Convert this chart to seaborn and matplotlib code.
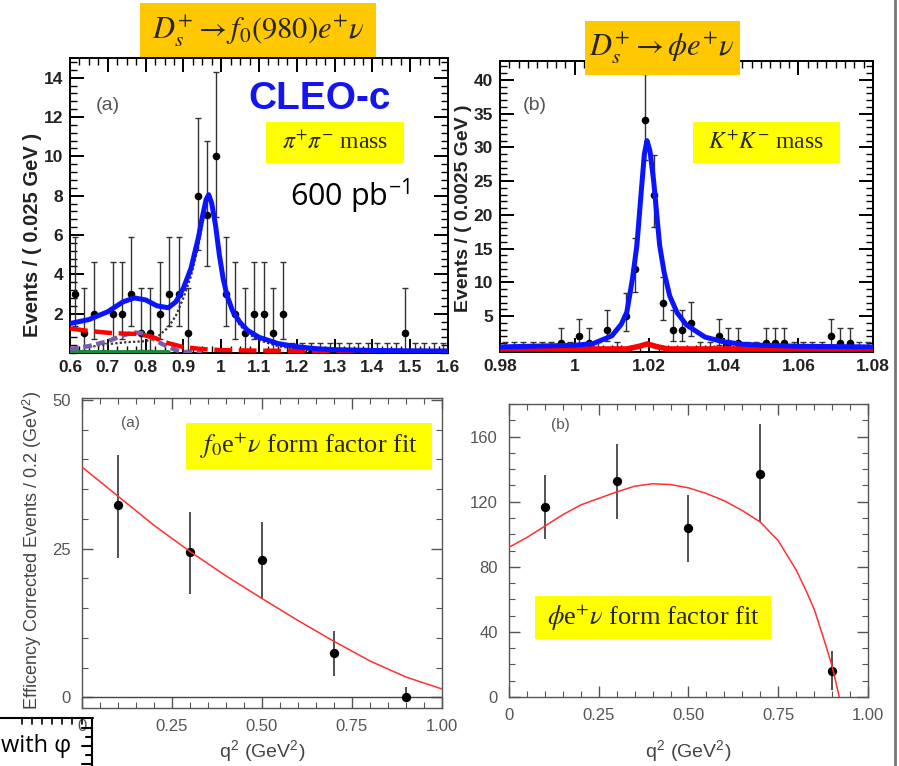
import numpy as np
import pandas as pd
import matplotlib
matplotlib.use("Agg")
import matplotlib.pyplot as plt
from matplotlib.patches import Rectangle
from matplotlib.lines import Line2D
from matplotlib.ticker import MultipleLocator
import seaborn as sns

# ---------------------------------------------------------------- data
# (a) pi+pi- mass, 0.025 GeV bins from 0.6 to 1.6
a_bin_lo, a_bin_w, a_nbins = 0.6, 0.025, 40
a_counts = [3, 1, 2, 0, 2, 2, 3, 1, 1, 2,
            3, 3, 1, 8, 7, 10, 3, 2, 1, 2,
            2, 1, 2, 0, 0, 0, 0, 0, 0, 0,
            0, 0, 0, 0, 0, 1, 0, 0, 0, 0]
# (b) K+K- mass, 0.0025 GeV bins from 0.98 to 1.08
b_bin_lo, b_bin_w, b_nbins = 0.98, 0.0025, 40
b_counts = [0, 0, 0, 0, 0, 0, 1, 0, 2, 1,
            0, 3, 0, 5, 12, 34, 23, 7, 3, 3,
            4, 0, 0, 2, 1, 1, 0, 0, 1, 1,
            1, 0, 0, 0, 0, 2, 1, 1, 0, 0]
# asymmetric error bars (lower, upper) by count
err_a = {0: (0.0, 0.5), 1: (0.83, 2.3), 2: (1.29, 2.64), 3: (1.63, 2.92),
         7: (2.58, 3.77), 8: (2.77, 3.95), 10: (3.11, 4.27)}
err_b = {0: (0.0, 1.15), 1: (0.83, 2.3), 2: (1.29, 2.64), 3: (1.63, 2.92),
         4: (1.91, 3.16), 5: (2.16, 3.38), 7: (2.58, 3.77), 12: (3.46, 4.61),
         23: (4.77, 5.86), 34: (5.8, 6.9)}

# (a) fit curves
a_tot_x = [0.60, 0.65, 0.70, 0.74, 0.77, 0.80, 0.83, 0.86, 0.88, 0.90, 0.92, 0.94, 0.95, 0.96,
           0.967, 0.975, 0.985, 0.995, 1.005, 1.015, 1.03, 1.05, 1.07, 1.10, 1.15, 1.20, 1.25,
           1.30, 1.40, 1.50, 1.60]
a_tot_y = [1.5, 1.7, 2.1, 2.6, 2.8, 2.7, 2.4, 2.3, 2.6, 3.3, 4.3, 5.9, 6.9, 7.8,
           8.05, 7.6, 6.5, 5.0, 3.8, 2.95, 2.15, 1.55, 1.15, 0.8, 0.48, 0.32, 0.22,
           0.17, 0.13, 0.11, 0.10]
a_bkg_x = [0.60, 0.65, 0.70, 0.75, 0.78, 0.82, 0.86, 0.90, 0.95, 1.00, 1.10, 1.20, 1.40, 1.60]
a_bkg_y = [1.25, 1.12, 1.03, 0.98, 0.97, 0.80, 0.50, 0.30, 0.20, 0.15, 0.12, 0.11, 0.10, 0.10]
a_rho_x = [0.60, 0.65, 0.70, 0.73, 0.75, 0.77, 0.79, 0.81, 0.83, 0.86, 0.88, 0.90, 0.95]
a_rho_y = [0.20, 0.35, 0.60, 0.82, 0.95, 1.05, 1.00, 0.85, 0.60, 0.30, 0.15, 0.05, 0.0]
a_f0_x = [0.65, 0.70, 0.75, 0.80, 0.83, 0.86, 0.88, 0.90, 0.92, 0.94, 0.95, 0.96, 0.967, 0.975,
          0.985, 0.995, 1.005, 1.015, 1.03, 1.05, 1.07, 1.10, 1.15, 1.20, 1.30, 1.40, 1.60]
a_f0_y = [0.3, 0.45, 0.55, 0.6, 0.8, 1.3, 1.9, 2.8, 3.9, 5.5, 6.6, 7.6, 7.9, 7.5,
          6.4, 4.9, 3.7, 2.8, 2.0, 1.4, 1.0, 0.65, 0.35, 0.2, 0.08, 0.05, 0.03]
a_grn_x = [0.60, 0.86]
a_grn_y = [0.05, 0.05]

# (b) fit curves
b_tot_x = [0.98, 1.00, 1.005, 1.01, 1.0125, 1.014, 1.0155, 1.0167, 1.0178, 1.0187, 1.0194,
           1.0202, 1.0212, 1.0228, 1.024, 1.0255, 1.0275, 1.03, 1.035, 1.04, 1.045, 1.05,
           1.06, 1.08]
b_tot_y = [0.45, 0.7, 0.95, 2.1, 3.8, 5.6, 10.5, 15.5, 23.0, 29.0, 31.0,
           29.5, 25.0, 15.5, 11.5, 8.0, 5.5, 3.7, 1.9, 1.2, 0.85, 0.7,
           0.55, 0.45]
b_bkg_x = [0.98, 1.014, 1.017, 1.0195, 1.022, 1.025, 1.08]
b_bkg_y = [0.15, 0.15, 0.5, 0.9, 0.5, 0.15, 0.15]

# (c) f0 e nu form factor fit
c_q2 = [0.1, 0.3, 0.5, 0.7, 0.9]
c_val = [32.3, 24.4, 23.0, 7.4, 0.0]
c_hi = [40.8, 31.2, 29.5, 11.2, 1.7]
c_lo = [23.4, 17.3, 16.6, 3.6, -0.6]
c_fit_x = [0.0, 0.1, 0.2, 0.3, 0.4, 0.5, 0.6, 0.7, 0.8, 0.9, 1.0]
c_fit_y = [38.7, 33.8, 28.9, 24.5, 20.4, 16.6, 12.9, 9.4, 6.1, 3.4, 1.4]

# (d) phi e nu form factor fit
d_q2 = [0.1, 0.3, 0.5, 0.7, 0.9]
d_val = [116.9, 132.5, 103.6, 137.0, 16.0]
d_hi = [136.6, 155.5, 124.1, 167.8, 28.3]
d_lo = [97.0, 109.3, 83.1, 107.3, 4.1]
d_fit_x = [0.0, 0.05, 0.1, 0.15, 0.2, 0.25, 0.3, 0.35, 0.4, 0.45, 0.5, 0.55, 0.6, 0.65,
           0.7, 0.75, 0.775, 0.8, 0.825, 0.85, 0.875, 0.9, 0.92]
d_fit_y = [92, 98, 105, 112, 118, 122, 126, 129.5, 131, 130.5, 128.5, 125, 120.5, 114.5,
           107.5, 96, 87, 78, 66.5, 54, 37, 19, 0]

a_xticks = [0.6, 0.7, 0.8, 0.9, 1.0, 1.1, 1.2, 1.3, 1.4, 1.5, 1.6]
a_xlabels = ["0.6", "0.7", "0.8", "0.9", "1", "1.1", "1.2", "1.3", "1.4", "1.5", "1.6"]
a_yticks = [2, 4, 6, 8, 10, 12, 14]
b_xticks = [0.98, 1.0, 1.02, 1.04, 1.06, 1.08]
b_xlabels = ["0.98", "1", "1.02", "1.04", "1.06", "1.08"]
b_yticks = [5, 10, 15, 20, 25, 30, 35, 40]
q_xticks = [0, 0.25, 0.5, 0.75, 1.0]
q_xlabels = ["0", "0.25", "0.50", "0.75", "1.00"]
c_yticks = [0, 25, 50]
d_yticks = [0, 40, 80, 120, 160]

# ---------------------------------------------------------------- style
sns.set_style("white")
plt.rcParams["font.family"] = ["Liberation Sans", "DejaVu Sans"]
plt.rcParams["mathtext.fontset"] = "stix"

W, H = 899, 766
fig = plt.figure(figsize=(W / 100, H / 100), dpi=100)
fig.patch.set_facecolor("white")


def fx(px):
    return px / W


def fy(py):
    return 1 - py / H


def add_ax(l, t, r, b):
    return fig.add_axes([l / W, 1 - b / H, (r - l) / W, (b - t) / H])


TICKFONT = dict(fontweight="bold", fontsize=12.5, family=["Liberation Sans", "DejaVu Sans"])


def root_style(ax):
    for s in ax.spines.values():
        s.set_linewidth(1.4)
        s.set_color("black")
    ax.tick_params(which="both", direction="in", top=True, right=True,
                   bottom=True, left=True, colors="black", labelcolor="#222222")
    ax.tick_params(which="major", length=10, width=1.4, pad=5)
    ax.tick_params(which="minor", length=5, width=1.0)


def paper_style(ax):
    for s in ax.spines.values():
        s.set_linewidth(1.0)
        s.set_color("#555555")
    ax.tick_params(which="both", direction="in", top=True, right=True,
                   bottom=True, left=True, colors="#555555", labelcolor="#555555")
    ax.tick_params(which="major", length=8, width=1.0, pad=8)
    ax.tick_params(which="minor", length=4, width=0.8)


def hist_points(ax, lo, w, counts, errtab, ms):
    centers = lo + w * (np.arange(len(counts)) + 0.5)
    df = pd.DataFrame({"x": centers, "y": counts})
    elo = [errtab[c][0] for c in counts]
    ehi = [errtab[c][1] for c in counts]
    ax.errorbar(df["x"], df["y"], yerr=[elo, ehi], fmt="none", ecolor="#333333",
                elinewidth=1.0, capsize=2.0, capthick=1.0, zorder=3)
    sns.scatterplot(data=df, x="x", y="y", ax=ax, color="black", s=ms, edgecolor="black",
                    linewidth=0, zorder=4, legend=False)


# ---------------------------------------------------------------- panel (a)
axA = add_ax(70, 58, 448, 353)
root_style(axA)
hist_points(axA, a_bin_lo, a_bin_w, a_counts, err_a, 30)
sns.lineplot(x=a_grn_x, y=a_grn_y, ax=axA, color="#1a8a3a", lw=3.5, zorder=5)
sns.lineplot(x=a_f0_x, y=a_f0_y, ax=axA, color="#333333", lw=1.6, linestyle=(0, (1, 1)), zorder=5)
sns.lineplot(x=a_rho_x, y=a_rho_y, ax=axA, color="#7b5ca8", lw=3.2, linestyle=(0, (2, 1)), zorder=6)
sns.lineplot(x=a_bkg_x, y=a_bkg_y, ax=axA, color="#ff0000", lw=3.2, linestyle=(0, (4, 1.5)), zorder=6)
sns.lineplot(x=a_tot_x, y=a_tot_y, ax=axA, color="#0a14ff", lw=3.6, zorder=7)
axA.set_xlim(0.6, 1.6)
axA.set_ylim(0, 15)
axA.set_xticks(a_xticks, a_xlabels, **TICKFONT)
axA.set_yticks(a_yticks, [str(v) for v in a_yticks], **TICKFONT)
axA.xaxis.set_minor_locator(MultipleLocator(0.025))
axA.yaxis.set_minor_locator(MultipleLocator(0.4))
axA.set_xlabel("")
axA.set_ylabel("")

# ---------------------------------------------------------------- panel (b)
axB = add_ax(500, 61, 873, 352)
root_style(axB)
hist_points(axB, b_bin_lo, b_bin_w, b_counts, err_b, 30)
sns.lineplot(x=b_bkg_x, y=b_bkg_y, ax=axB, color="#ff0000", lw=4.0, zorder=5)
sns.lineplot(x=b_tot_x, y=b_tot_y, ax=axB, color="#0a14ff", lw=3.6, zorder=6)
axB.set_xlim(0.98, 1.08)
axB.set_ylim(-0.3, 42.8)
axB.set_xticks(b_xticks, b_xlabels, **TICKFONT)
axB.set_yticks(b_yticks, [str(v) for v in b_yticks], **TICKFONT)
axB.xaxis.set_minor_locator(MultipleLocator(0.0025))
axB.yaxis.set_minor_locator(MultipleLocator(1))
axB.set_xlabel("")
axB.set_ylabel("")

# ---------------------------------------------------------------- panel (c)
axC = add_ax(82, 398, 442, 708)
paper_style(axC)
axC.axhline(0, color="#444444", lw=1.0, zorder=1)
axC.errorbar(c_q2, c_val, yerr=[np.subtract(c_val, c_lo), np.subtract(c_hi, c_val)],
             fmt="none", ecolor="#333333", elinewidth=1.2, capsize=0, zorder=3)
sns.scatterplot(x=c_q2, y=c_val, ax=axC, color="black", s=45, linewidth=0, zorder=4)
sns.lineplot(x=c_fit_x, y=c_fit_y, ax=axC, color="#ff3030", lw=1.1, zorder=5)
axC.set_xlim(0, 1.0)
axC.set_ylim(-1.8, 50.3)
axC.set_xticks(q_xticks, q_xlabels, fontsize=12)
axC.set_yticks(c_yticks, [str(v) for v in c_yticks], fontsize=12)
axC.xaxis.set_minor_locator(MultipleLocator(0.05))
axC.yaxis.set_minor_locator(MultipleLocator(5))
axC.set_xlabel("")
axC.set_ylabel("")

# ---------------------------------------------------------------- panel (d)
axD = add_ax(509, 404, 868, 697)
paper_style(axD)
axD.errorbar(d_q2, d_val, yerr=[np.subtract(d_val, d_lo), np.subtract(d_hi, d_val)],
             fmt="none", ecolor="#333333", elinewidth=1.2, capsize=0, zorder=3)
sns.scatterplot(x=d_q2, y=d_val, ax=axD, color="black", s=45, linewidth=0, zorder=4)
sns.lineplot(x=d_fit_x, y=d_fit_y, ax=axD, color="#ff3030", lw=1.1, zorder=5)
axD.set_xlim(0, 1.0)
axD.set_ylim(0, 180)
axD.set_xticks(q_xticks, q_xlabels, fontsize=12)
axD.set_yticks(d_yticks, [str(v) for v in d_yticks], fontsize=12)
axD.xaxis.set_minor_locator(MultipleLocator(0.05))
axD.yaxis.set_minor_locator(MultipleLocator(10))
axD.set_xlabel("")
axD.set_ylabel("")

# ---------------------------------------------------------------- annotations
def box(l, t, r, b, color):
    fig.patches.append(Rectangle((fx(l), fy(b)), (r - l) / W, (b - t) / H,
                                 transform=fig.transFigure, facecolor=color,
                                 edgecolor="none", zorder=10))


SERIF = ["Liberation Serif", "DejaVu Serif"]
CAL = ["Open Sans", "DejaVu Sans"]

box(140, 3, 376, 57, "#ffc800")
fig.text(fx(258), fy(31), r"$D_s^{+}\rightarrow f_0(980)e^{+}\nu$", ha="center", va="center",
         fontsize=22, zorder=11, family=SERIF)
box(585, 21, 740, 75, "#ffc800")
fig.text(fx(662), fy(48), r"$D_s^{+}\rightarrow \phi e^{+}\nu$", ha="center", va="center",
         fontsize=22, zorder=11, family=SERIF)

box(266, 122, 404, 163, "#ffff00")
fig.text(fx(335), fy(143), r"$\pi^{+}\pi^{-}$ mass", ha="center", va="center",
         fontsize=17, zorder=11, family=SERIF)
box(693, 122, 840, 163, "#ffff00")
fig.text(fx(766), fy(143), r"$K^{+}K^{-}$ mass", ha="center", va="center",
         fontsize=17, zorder=11, family=SERIF)
box(186, 423, 432, 469, "#ffff00")
fig.text(fx(309), fy(446), r"$f_0$e$^{+}\nu$ form factor fit", ha="center", va="center",
         fontsize=19, zorder=11, family=SERIF)
box(535, 596, 771, 639, "#ffff00")
fig.text(fx(653), fy(618), r"$\phi$e$^{+}\nu$ form factor fit", ha="center", va="center",
         fontsize=19, zorder=11, family=SERIF)

fig.text(fx(320), fy(99), "CLEO-c", ha="center", va="center", fontsize=28,
         fontweight="bold", color="#1414f0", zorder=11)
fig.text(fx(290), fy(205), r"600 pb$^{\mathregular{-1}}$", ha="left", va="baseline",
         fontsize=22, color="black", zorder=11, family=CAL)

fig.text(fx(108), fy(105), "(a)", ha="center", va="center", fontsize=14, color="#555555")
fig.text(fx(535), fy(105), "(b)", ha="center", va="center", fontsize=14, color="#555555")
fig.text(fx(130), fy(423), "(a)", ha="center", va="center", fontsize=11, color="#555555")
fig.text(fx(560), fy(425), "(b)", ha="center", va="center", fontsize=11, color="#555555")

fig.text(fx(33), fy(235), "Events / ( 0.025 GeV )", rotation=90, ha="center", va="center",
         fontsize=14.5, fontweight="bold", color="#222222")
fig.text(fx(463), fy(208), "Events / ( 0.0025 GeV )", rotation=90, ha="center", va="center",
         fontsize=14, fontweight="bold", color="#222222")
fig.text(fx(32), fy(550), r"Efficency Corrected Events / 0.2 (GeV$^{\mathregular{2}}$)",
         rotation=90, ha="center", va="center", fontsize=13, color="#444444")
fig.text(fx(262), fy(752), r"q$^{\mathregular{2}}$ (GeV$^{\mathregular{2}}$)", ha="center",
         va="center", fontsize=14, color="#444444")
fig.text(fx(688), fy(752), r"q$^{\mathregular{2}}$ (GeV$^{\mathregular{2}}$)", ha="center",
         va="center", fontsize=14, color="#444444")

# slide fragment bottom-left
fig.text(fx(1), fy(752), "with φ", ha="left", va="baseline", fontsize=17, color="black",
         family=CAL, zorder=11)
fig.lines.append(Line2D([0, fx(93)], [fy(718), fy(718)], transform=fig.transFigure,
                        color="black", lw=1.5, zorder=11))
fig.lines.append(Line2D([fx(92), fx(92)], [fy(718), 0], transform=fig.transFigure,
                        color="black", lw=1.5, zorder=11))
for px in range(22, 92, 10):
    fig.lines.append(Line2D([fx(px), fx(px)], [fy(718), fy(724)], transform=fig.transFigure,
                            color="black", lw=1.2, zorder=11))
for k, py in enumerate(range(728, 766, 9)):
    ln = 10 if k % 2 == 0 else 6
    fig.lines.append(Line2D([fx(92 - ln), fx(92)], [fy(py), fy(py)], transform=fig.transFigure,
                            color="black", lw=1.5, zorder=11))

# right-edge slide border
fig.lines.append(Line2D([fx(895), fx(895)], [0, 1], transform=fig.transFigure,
                        color="#777777", lw=2.0, zorder=11))

fig.savefig("out.png", dpi=100)
